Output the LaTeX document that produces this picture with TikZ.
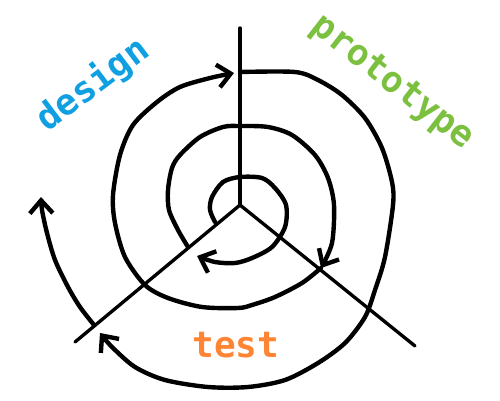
\documentclass[tikz,border=0pt]{standalone}
\usepackage{fontspec}
\setmonofont{DejaVu Sans Mono}
\usetikzlibrary{arrows.meta}
\definecolor{designblue}{RGB}{16,160,226}
\definecolor{protogreen}{RGB}{124,192,64}
\definecolor{testorange}{RGB}{255,132,52}
\begin{document}
\begin{tikzpicture}[x=0.2mm,y=-0.2mm,
    turn/.style={line width=2.5pt,line cap=round,line join=round},
    tip/.style={-{Straight Barb[length=2.6mm,width=4.6mm,line width=2.5pt]}},
    axis/.style={line width=1.9pt,line cap=round},
    phase/.style={font=\ttfamily\bfseries\fontsize{20.5}{24}\selectfont}]
  \useasboundingbox (0,0) rectangle (500,400);
  % the three phase lines
  \coordinate (centre) at (240,205);
  \coordinate (up) at (240,28);
  \coordinate (left) at (75,342);
  \coordinate (right) at (415,346);
  \draw[axis] (centre) -- (up);
  \draw[axis] (centre) -- (left);
  \draw[axis] (centre) -- (right);
  % the spiral, from the inside out
  \draw[turn,tip] plot[smooth] coordinates {(215,222) (210,210) (212,197) (223,182) (240,177) (262,178) (275,188) (286,205) (285,227) (272,247) (252,258) (235,263) (215,262) (197,256)};
  \draw[turn,tip] plot[smooth] coordinates {(188,247) (178,230) (169,210) (168,190) (172,168) (180,155) (200,137) (223,127) (240,126) (268,127) (292,135) (315,155) (328,178) (334,205) (332,243) (321,268)};
  \draw[turn,tip] plot[smooth] coordinates {(321,268) (302,283) (275,297) (252,305) (238,308) (202,307) (168,298) (145,285) (125,257) (115,223) (113,195) (120,155) (133,125) (157,102) (180,87) (210,78) (234,73)};
  \draw[turn,tip] plot[smooth] coordinates {(240,72) (295,72) (318,80) (342,95) (365,118) (382,148) (392,182) (393,205) (385,257) (375,290) (365,317) (345,343) (318,363) (285,380) (248,387) (208,387) (165,380) (135,367) (112,347) (100,333)};
  \draw[turn,tip] plot[smooth] coordinates {(94,325) (80,307) (68,287) (55,260) (47,233) (42,210) (41,197)};
  % labels
  \node[phase,text=designblue,rotate=37] (design) at (93,85) {design};
  \node[phase,text=protogreen,rotate=-38] (prototype) at (392,83) {prototype};
  \node[phase,text=testorange] (test) at (236,345) {test};
\end{tikzpicture}
\end{document}
